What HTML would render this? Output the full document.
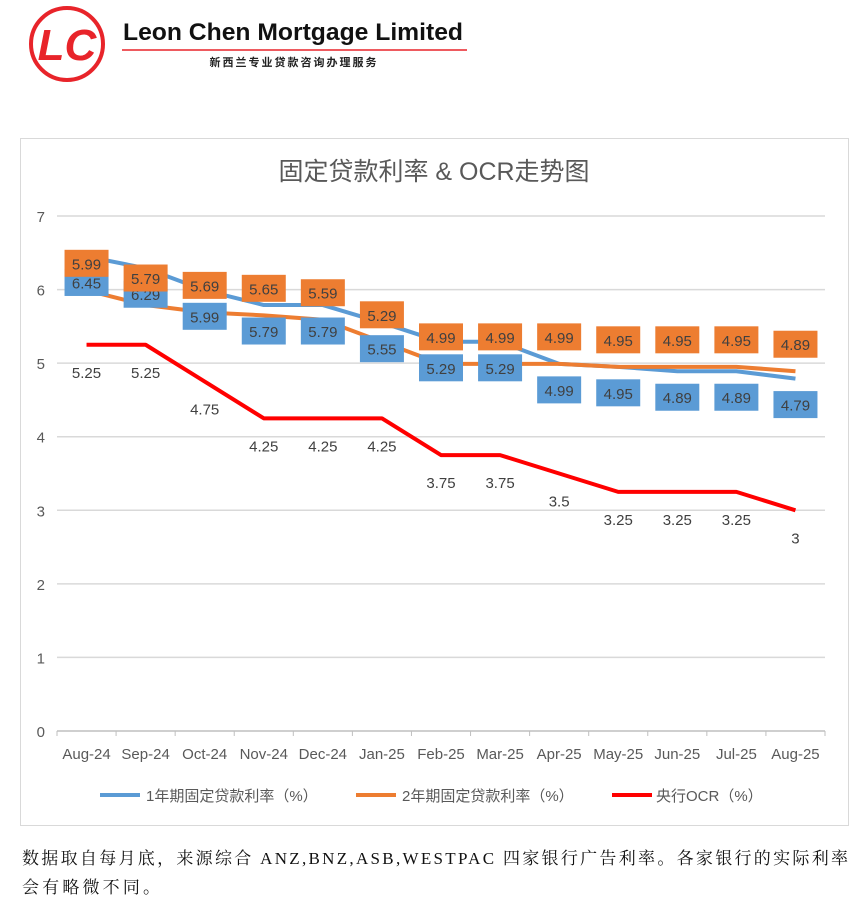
<!DOCTYPE html>
<html><head><meta charset="utf-8"><style>
body{margin:0;width:867px;height:900px;background:#fff;overflow:hidden;font-family:"Liberation Sans","Noto Sans CJK SC",sans-serif;}
svg text{font-family:"Liberation Sans","Noto Sans CJK SC",sans-serif;}
</style></head><body>
<svg width="867" height="900">
<g>
<circle cx="67" cy="44" r="36" fill="none" stroke="#e8242a" stroke-width="4"/>
<text x="67" y="60" text-anchor="middle" font-size="44" font-style="italic" font-weight="bold" fill="#e8242a">LC</text>
</g>
<text x="123" y="40" font-size="24" font-weight="bold" fill="#111" textLength="340" lengthAdjust="spacingAndGlyphs">Leon Chen Mortgage Limited</text>
<line x1="122" y1="50" x2="467" y2="50" stroke="#e8242a" stroke-width="1.5"/>
<text x="294" y="66" text-anchor="middle" font-size="11" font-weight="bold" fill="#222" letter-spacing="2">新西兰专业贷款咨询办理服务</text>
<rect x="20.5" y="138.5" width="828" height="687" fill="#fff" stroke="#d9d9d9"/>
<text x="434" y="180" text-anchor="middle" font-size="25" fill="#595959">固定贷款利率 &amp; OCR走势图</text>
<g id="grid"></g><g id="lines"></g><g id="labels"></g>
<g>
<line x1="100" y1="795" x2="140" y2="795" stroke="#5b9bd5" stroke-width="4"/>
<text x="146" y="801" font-size="15" fill="#595959">1年期固定贷款利率（%）</text>
<line x1="356" y1="795" x2="396" y2="795" stroke="#ed7d31" stroke-width="4"/>
<text x="402" y="801" font-size="15" fill="#595959">2年期固定贷款利率（%）</text>
<line x1="612" y1="795" x2="652" y2="795" stroke="#ff0000" stroke-width="4"/>
<text x="656" y="801" font-size="15" fill="#595959">央行OCR（%）</text>
</g>
<text x="22" y="864" font-size="17" fill="#111" textLength="826" lengthAdjust="spacing" style="font-family:'Liberation Serif','Noto Serif CJK SC',serif">数据取自每月底，来源综合 ANZ,BNZ,ASB,WESTPAC 四家银行广告利率。各家银行的实际利率</text>
<text x="22" y="893" font-size="17" fill="#111" textLength="138" lengthAdjust="spacing" style="font-family:'Liberation Serif','Noto Serif CJK SC',serif">会有略微不同。</text>
</svg>
<script>
const categories=["Aug-24","Sep-24","Oct-24","Nov-24","Dec-24","Jan-25","Feb-25","Mar-25","Apr-25","May-25","Jun-25","Jul-25","Aug-25"];
const oneYear=[6.45,6.29,5.99,5.79,5.79,5.55,5.29,5.29,4.99,4.95,4.89,4.89,4.79];
const twoYear=[5.99,5.79,5.69,5.65,5.59,5.29,4.99,4.99,4.99,4.95,4.95,4.95,4.89];
const ocr=[5.25,5.25,4.75,4.25,4.25,4.25,3.75,3.75,3.5,3.25,3.25,3.25,3];
const yTicks=[0,1,2,3,4,5,6,7];
const NS="http://www.w3.org/2000/svg";
const L=57,R=825,Y0=731,Y7=216;
const bw=(R-L)/categories.length;
function xs(i){return L+bw*(i+0.5);}
function ys(v){return Y0-(Y0-Y7)*v/7;}
function mk(t,a,p){const e=document.createElementNS(NS,t);for(const k in a)e.setAttribute(k,a[k]);p.appendChild(e);return e;}
const g=document.getElementById('grid'),ln=document.getElementById('lines'),lb=document.getElementById('labels');
yTicks.forEach(v=>{
 const l=mk('line',{x1:L,x2:R,y1:ys(v),y2:ys(v),stroke:v===0?'#bfbfbf':'#d9d9d9','stroke-width':1.5},g);
 
 
 const t=mk('text',{x:45,y:ys(v)+6,'text-anchor':'end','font-size':15,fill:'#595959'},g);t.textContent=v;
 
 
});
categories.forEach((c,i)=>{
 mk('line',{x1:L+bw*i,x2:L+bw*i,y1:Y0,y2:Y0+5,stroke:'#bfbfbf'},g);
 const t=mk('text',{x:xs(i),y:Y0+28,'text-anchor':'middle','font-size':15,fill:'#595959'},g);t.textContent=c;
 
 
});
mk('line',{x1:R,x2:R,y1:Y0,y2:Y0+5,stroke:'#bfbfbf'},g);
function line(data,color,name){
 const p=mk('polyline',{points:data.map((v,i)=>xs(i)+','+ys(v)).join(' '),fill:'none',stroke:color,'stroke-width':4,'stroke-linejoin':'round'},ln);
 
 
}
line(oneYear,'#5b9bd5','one-year-rate-line');
line(twoYear,'#ed7d31','two-year-rate-line');
line(ocr,'#ff0000','ocr-line');
function boxes(data,color,off,name){
 data.forEach((v,i)=>{
  const cy=ys(v)+off;
  const r=mk('rect',{x:xs(i)-22,y:cy-13.5,width:44,height:27,fill:color},lb);
  
  
  const t=mk('text',{x:xs(i),y:cy+6,'text-anchor':'middle','font-size':15,fill:'#404040'},lb);t.textContent=v.toFixed(2);
  
  
 });
}
boxes(oneYear,'#5b9bd5',26,'one-year');
boxes(twoYear,'#ed7d31',-27,'two-year');
ocr.forEach((v,i)=>{
 const t=mk('text',{x:xs(i),y:ys(v)+33,'text-anchor':'middle','font-size':15,fill:'#404040'},lb);t.textContent=String(v);
 
 
});
</script>
</body></html>
